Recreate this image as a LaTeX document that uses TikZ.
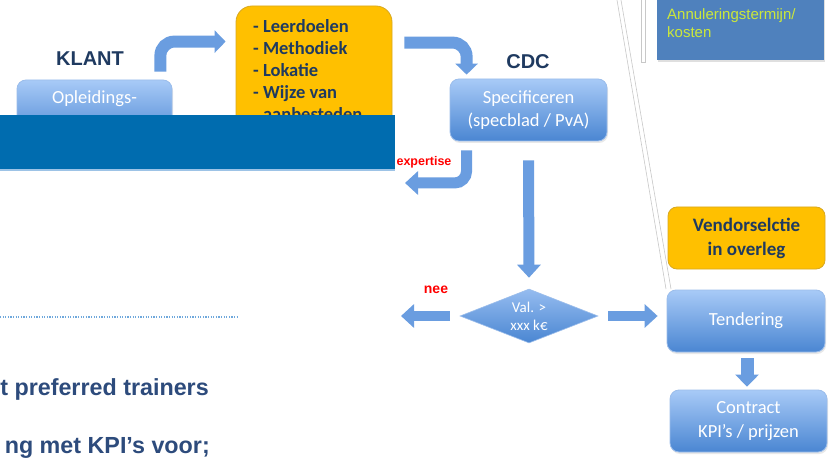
\documentclass[tikz,border=0pt]{standalone}
\usepackage{fontspec}
\setmainfont{Carlito}
\newfontfamily\arialf{Liberation Sans}
\usetikzlibrary{shapes.geometric,arrows.meta,calc,shadows}
\definecolor{boxtop}{HTML}{A8CAF7}
\definecolor{boxbot}{HTML}{4A86D2}
\definecolor{boxedge}{HTML}{9BBDEB}
\definecolor{orangef}{HTML}{FFC000}
\definecolor{orangee}{HTML}{D8A820}
\definecolor{navy}{HTML}{1F3A60}
\definecolor{navytwo}{HTML}{2D4B7C}
\definecolor{barblue}{HTML}{006CAF}
\definecolor{barlight}{HTML}{9DC3E6}
\definecolor{arrowc}{HTML}{6A9DE0}
\definecolor{noteblue}{HTML}{4F81BD}
\definecolor{notetext}{HTML}{CCE83A}
\definecolor{linegray}{HTML}{C8C8C8}
\definecolor{dotblue}{HTML}{6FA8DC}
\begin{document}
\begin{tikzpicture}[x=1pt,y=-1pt,
  bluebox/.style={rounded corners=9pt, top color=boxtop, bottom color=boxbot,
    draw=boxedge, line width=0.8pt, text=white, align=center, inner sep=0pt,
    font=\fontsize{18.5}{23.5}\selectfont,
    drop shadow={opacity=0.18, shadow xshift=1pt, shadow yshift=-2pt}},
  orgbox/.style={rounded corners=16pt, fill=orangef, draw=orangee, line width=0.8pt,
    inner sep=0pt, align=center, text=navy, font=\bfseries\fontsize{19}{24}\selectfont},
  barrow/.style={draw=arrowc, line width=11pt, -{Triangle[width=23pt,length=13pt]}},
  headtxt/.style={font=\arialf\bfseries\fontsize{20}{22}\selectfont, text=navy},
  redtxt/.style={font=\arialf\bfseries\fontsize{12}{14}\selectfont, text=red},
  bottxt/.style={font=\arialf\bfseries\fontsize{23.3}{26}\selectfont, text=navytwo, inner sep=0pt}
]
\useasboundingbox (0,0) rectangle (837,462);
\fill[white] (0,0) rectangle (837,462);

% thin gray lines (top right)
\draw[linegray, line width=0.6pt] (617,0) -- (666,289);
\draw[linegray, line width=0.6pt] (621,0) -- (671,289);
\draw[linegray, line width=0.6pt, fill=white] (641,-2) rectangle (645,62);

% note box top right
\node[fill=noteblue, minimum width=167pt, minimum height=66pt, inner sep=0pt,
  anchor=north west, drop shadow={opacity=0.25, shadow xshift=1pt, shadow yshift=-2pt}] (note) at (657,-6) {};
\node[anchor=west, align=left, inner sep=0pt, text=notetext,
  font=\arialf\fontsize{15}{18}\selectfont] (notet) at (667,23) {Annuleringstermijn/\\kosten};

% KLANT
\node[headtxt] (klant) at (90,59) {KLANT};
\node[bluebox, minimum width=155pt, minimum height=62pt] (opl) at (94.5,111) {};
\node[text=white, font=\fontsize{18.5}{23}\selectfont, inner sep=0pt] (oplt) at (94.5,99) {Opleidings-};

% orange box
\node[orgbox, minimum width=156pt, minimum height=154pt] (org) at (314,83) {};
\node[anchor=north west, align=left, inner sep=0pt, text=navy,
  font=\bfseries\fontsize{18.5}{22.2}\selectfont] (orgt) at (253,19)
  {- Leerdoelen\\- Methodiek\\- Lokatie\\- Wijze van\\\phantom{- }aanbesteden};

% CDC
\node[headtxt] (cdc) at (528,62) {CDC};
\node[bluebox, minimum width=157pt, minimum height=62pt] (spec) at (528.5,110) {Specificeren\\(specblad / PvA)};

% decision
\node[diamond, minimum width=138pt, minimum height=54pt, inner sep=0pt, aspect=2.5,
  top color=boxtop!80!boxbot, bottom color=boxbot, draw=boxedge, line width=0.6pt,
  text=white, align=center, font=\fontsize{15}{18}\selectfont] (dia) at (529,316) {Val. >\\xxx k€};
\node[redtxt, font=\arialf\bfseries\fontsize{14}{16}\selectfont] (nee) at (436,290) {nee};

% right column
\node[orgbox, rounded corners=9pt, minimum width=157pt, minimum height=62pt] (vend) at (746.5,238)
  {Vendorselctie\\in overleg};
\node[bluebox, minimum width=158pt, minimum height=62pt] (tend) at (746,321) {Tendering};
\node[bluebox, minimum width=157pt, minimum height=62pt] (contr) at (748.5,421) {Contract\\KPI’s / prijzen};

% connectors
\draw[barrow, line width=12pt, rounded corners=14pt, -{Triangle[width=22pt,length=11pt]}]
  ($(opl.north east)+(-12,-8)$) |- ($(org.north west)+(-10,36)$);
\draw[barrow, line width=12pt, rounded corners=14pt, -{Triangle[width=22pt,length=11pt]}]
  ($(org.north east)+(12,37)$) -| ($(spec.north west)+(17,-4)$);
\coordinate (expend) at (405,183);
\draw[barrow, rounded corners=12pt] ($(spec.south west)+(17,9)$) |- (expend);
\node[redtxt, font=\arialf\bfseries\fontsize{12.5}{14}\selectfont] (expt) at (424,162) {expertise};
\draw[barrow] ($(spec.south)+(0,19)$) -- ($(dia.north)+(0,-11)$);
\coordinate (neeend) at (401,316);
\draw[barrow, line width=10pt] ($(dia.west)+(-10,0)$) -- (neeend);
\draw[barrow, line width=10pt] ($(dia.east)+(10,0)$) -- ($(tend.west|-dia.east)+(-9,0)$);
\draw[barrow, line width=13pt, -{Triangle[width=23pt,length=12pt]}] ($(tend.south)+(1,6)$) -- ($(tend.south|-contr.north)+(1,-3)$);

% overlay bar
\fill[barblue] (0,115) rectangle (395,169);
\fill[barlight] (0,169) rectangle (395,171.5);

% dotted line and bottom text
\coordinate (dotl) at (0,317);
\coordinate (dotr) at (238,317);
\draw[dotblue, line width=1.3pt, dash pattern=on 1.2pt off 1.4pt] (dotl) -- (dotr);
\node[bottxt, anchor=base east] (t1) at (209,395) {t preferred trainers};
\node[bottxt, anchor=base east] (t2) at (210,453) {ng met KPI’s voor;};
\end{tikzpicture}
\end{document}
